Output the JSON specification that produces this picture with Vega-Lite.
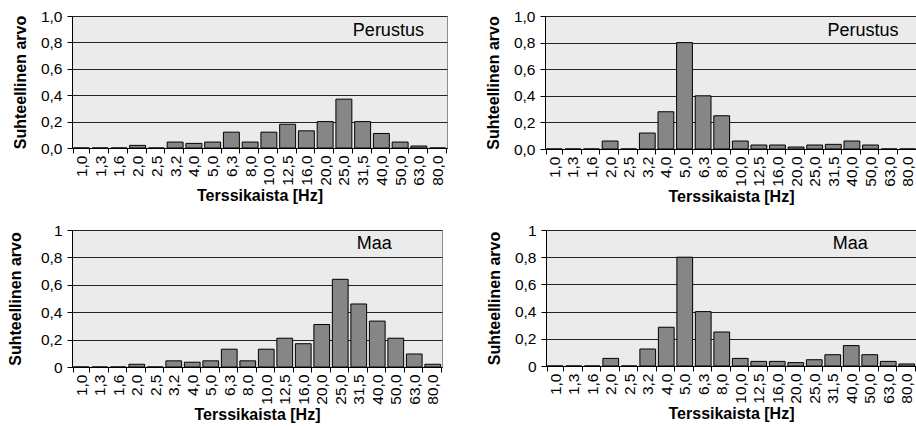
{
  "$schema": "https://vega.github.io/schema/vega-lite/v6.json",
  "padding": {"left": 6, "top": 8, "right": 0, "bottom": 0},
  "background": "white",
  "datasets": {
    "p1": [
      {"band": "1,0", "value": 0}, {"band": "1,3", "value": 0}, {"band": "1,6", "value": 0},
      {"band": "2,0", "value": 0.02}, {"band": "2,5", "value": 0}, {"band": "3,2", "value": 0.045},
      {"band": "4,0", "value": 0.035}, {"band": "5,0", "value": 0.045}, {"band": "6,3", "value": 0.12},
      {"band": "8,0", "value": 0.045}, {"band": "10,0", "value": 0.12}, {"band": "12,5", "value": 0.18},
      {"band": "16,0", "value": 0.13}, {"band": "20,0", "value": 0.2}, {"band": "25,0", "value": 0.37},
      {"band": "31,5", "value": 0.2}, {"band": "40,0", "value": 0.11}, {"band": "50,0", "value": 0.045},
      {"band": "63,0", "value": 0.015}, {"band": "80,0", "value": 0}
    ],
    "p2": [
      {"band": "1,0", "value": 0}, {"band": "1,3", "value": 0}, {"band": "1,6", "value": 0},
      {"band": "2,0", "value": 0.06}, {"band": "2,5", "value": 0}, {"band": "3,2", "value": 0.12},
      {"band": "4,0", "value": 0.28}, {"band": "5,0", "value": 0.8}, {"band": "6,3", "value": 0.4},
      {"band": "8,0", "value": 0.25}, {"band": "10,0", "value": 0.06}, {"band": "12,5", "value": 0.03},
      {"band": "16,0", "value": 0.03}, {"band": "20,0", "value": 0.015}, {"band": "25,0", "value": 0.03},
      {"band": "31,5", "value": 0.035}, {"band": "40,0", "value": 0.06}, {"band": "50,0", "value": 0.03},
      {"band": "63,0", "value": 0}, {"band": "80,0", "value": 0}
    ],
    "p3": [
      {"band": "1,0", "value": 0}, {"band": "1,3", "value": 0}, {"band": "1,6", "value": 0},
      {"band": "2,0", "value": 0.02}, {"band": "2,5", "value": 0}, {"band": "3,2", "value": 0.045},
      {"band": "4,0", "value": 0.035}, {"band": "5,0", "value": 0.045}, {"band": "6,3", "value": 0.13},
      {"band": "8,0", "value": 0.045}, {"band": "10,0", "value": 0.13}, {"band": "12,5", "value": 0.21},
      {"band": "16,0", "value": 0.17}, {"band": "20,0", "value": 0.31}, {"band": "25,0", "value": 0.64},
      {"band": "31,5", "value": 0.46}, {"band": "40,0", "value": 0.335}, {"band": "50,0", "value": 0.21},
      {"band": "63,0", "value": 0.095}, {"band": "80,0", "value": 0.02}
    ],
    "p4": [
      {"band": "1,0", "value": 0}, {"band": "1,3", "value": 0}, {"band": "1,6", "value": 0},
      {"band": "2,0", "value": 0.056}, {"band": "2,5", "value": 0}, {"band": "3,2", "value": 0.125},
      {"band": "4,0", "value": 0.285}, {"band": "5,0", "value": 0.8}, {"band": "6,3", "value": 0.4},
      {"band": "8,0", "value": 0.25}, {"band": "10,0", "value": 0.056}, {"band": "12,5", "value": 0.034},
      {"band": "16,0", "value": 0.034}, {"band": "20,0", "value": 0.025}, {"band": "25,0", "value": 0.046},
      {"band": "31,5", "value": 0.083}, {"band": "40,0", "value": 0.15}, {"band": "50,0", "value": 0.083},
      {"band": "63,0", "value": 0.034}, {"band": "80,0", "value": 0.015}
    ]
  },
  "config": {
    "font": "Liberation Sans",
    "view": {"fill": "#ebebeb", "stroke": "#8c8c8c", "strokeWidth": 1},
    "axis": {
      "labelFont": "Liberation Sans", "titleFont": "Liberation Sans",
      "labelFontSize": 15.5, "titleFontSize": 16, "titleFontWeight": "bold",
      "labelColor": "#000", "titleColor": "#000",
      "domainColor": "#000", "tickColor": "#000", "gridColor": "#222", "gridOpacity": 1, "gridWidth": 1
    },
    "axisX": {"labelAngle": -90, "labelAlign": "right", "labelBaseline": "middle", "labelPadding": 2, "tickBand": "extent", "tickSize": 5, "titlePadding": 2, "labelOverlap": false},
    "axisY": {"tickSize": 5, "labelPadding": 5, "titlePadding": 12, "labelOverlap": false}
  },
  "vconcat": [
    {
      "spacing": 36,
      "hconcat": [
        {
          "width": 375, "height": 132,
          "layer": [
            {
              "data": {"name": "p1"},
              "mark": {"type": "bar", "fill": "#868686", "stroke": "#000", "strokeWidth": 1},
              "encoding": {
                "x": {"field": "band", "type": "nominal", "sort": null,
                  "scale": {"domain": ["1,0","1,3","1,6","2,0","2,5","3,2","4,0","5,0","6,3","8,0","10,0","12,5","16,0","20,0","25,0","31,5","40,0","50,0","63,0","80,0"], "paddingInner": 0.15, "paddingOuter": 0.075},
                  "axis": {"title": "Terssikaista [Hz]"}},
                "y": {"field": "value", "type": "quantitative", "scale": {"domain": [0, 1], "nice": false},
                  "axis": {"title": "Suhteellinen arvo", "values": [0, 0.2, 0.4, 0.6, 0.8, 1], "labelExpr": "replace(format(datum.value, '.1f'), '.', ',')"}}
              }
            },
            {
              "data": {"values": [{"band": "40,0", "value": 0.886, "label": "Perustus"}]},
              "mark": {"type": "text", "fontSize": 18, "font": "Liberation Sans", "color": "#000", "align": "center", "baseline": "middle", "dx": 7},
              "encoding": {
                "x": {"field": "band", "type": "nominal", "sort": null,
                  "axis": {"title": "Terssikaista [Hz]"}},
                "y": {"field": "value", "type": "quantitative",
                  "axis": {"title": "Suhteellinen arvo", "values": [0, 0.2, 0.4, 0.6, 0.8, 1], "labelExpr": "replace(format(datum.value, '.1f'), '.', ',')"}},
                "text": {"field": "label"}
              }
            }
          ]
        },
        {
          "width": 372, "height": 133,
          "layer": [
            {
              "data": {"name": "p2"},
              "mark": {"type": "bar", "fill": "#868686", "stroke": "#000", "strokeWidth": 1},
              "encoding": {
                "x": {"field": "band", "type": "nominal", "sort": null,
                  "scale": {"domain": ["1,0","1,3","1,6","2,0","2,5","3,2","4,0","5,0","6,3","8,0","10,0","12,5","16,0","20,0","25,0","31,5","40,0","50,0","63,0","80,0"], "paddingInner": 0.15, "paddingOuter": 0.075},
                  "axis": {"title": "Terssikaista [Hz]"}},
                "y": {"field": "value", "type": "quantitative", "scale": {"domain": [0, 1], "nice": false},
                  "axis": {"title": "Suhteellinen arvo", "values": [0, 0.2, 0.4, 0.6, 0.8, 1], "labelExpr": "replace(format(datum.value, '.1f'), '.', ',')"}}
              }
            },
            {
              "data": {"values": [{"band": "40,0", "value": 0.887, "label": "Perustus"}]},
              "mark": {"type": "text", "fontSize": 18, "font": "Liberation Sans", "color": "#000", "align": "center", "baseline": "middle", "dx": 11},
              "encoding": {
                "x": {"field": "band", "type": "nominal", "sort": null,
                  "axis": {"title": "Terssikaista [Hz]"}},
                "y": {"field": "value", "type": "quantitative",
                  "axis": {"title": "Suhteellinen arvo", "values": [0, 0.2, 0.4, 0.6, 0.8, 1], "labelExpr": "replace(format(datum.value, '.1f'), '.', ',')"}},
                "text": {"field": "label"}
              }
            }
          ]
        }
      ]
    },
    {
      "spacing": 42,
      "hconcat": [
        {
          "width": 370, "height": 137,
          "layer": [
            {
              "data": {"name": "p3"},
              "mark": {"type": "bar", "fill": "#868686", "stroke": "#000", "strokeWidth": 1},
              "encoding": {
                "x": {"field": "band", "type": "nominal", "sort": null,
                  "scale": {"domain": ["1,0","1,3","1,6","2,0","2,5","3,2","4,0","5,0","6,3","8,0","10,0","12,5","16,0","20,0","25,0","31,5","40,0","50,0","63,0","80,0"], "paddingInner": 0.15, "paddingOuter": 0.075},
                  "axis": {"title": "Terssikaista [Hz]"}},
                "y": {"field": "value", "type": "quantitative", "scale": {"domain": [0, 1], "nice": false},
                  "axis": {"title": "Suhteellinen arvo", "minExtent": 37, "values": [0, 0.2, 0.4, 0.6, 0.8, 1], "labelExpr": "datum.value == 0 || datum.value == 1 ? format(datum.value, 'd') : replace(format(datum.value, '.1f'), '.', ',')"}}
              }
            },
            {
              "data": {"values": [{"band": "40,0", "value": 0.898, "label": "Maa"}]},
              "mark": {"type": "text", "fontSize": 18, "font": "Liberation Sans", "color": "#000", "align": "center", "baseline": "middle", "dx": -3},
              "encoding": {
                "x": {"field": "band", "type": "nominal", "sort": null,
                  "axis": {"title": "Terssikaista [Hz]"}},
                "y": {"field": "value", "type": "quantitative",
                  "axis": {"title": "Suhteellinen arvo", "minExtent": 37, "values": [0, 0.2, 0.4, 0.6, 0.8, 1], "labelExpr": "datum.value == 0 || datum.value == 1 ? format(datum.value, 'd') : replace(format(datum.value, '.1f'), '.', ',')"}},
                "text": {"field": "label"}
              }
            }
          ]
        },
        {
          "width": 370, "height": 136,
          "layer": [
            {
              "data": {"name": "p4"},
              "mark": {"type": "bar", "fill": "#868686", "stroke": "#000", "strokeWidth": 1},
              "encoding": {
                "x": {"field": "band", "type": "nominal", "sort": null,
                  "scale": {"domain": ["1,0","1,3","1,6","2,0","2,5","3,2","4,0","5,0","6,3","8,0","10,0","12,5","16,0","20,0","25,0","31,5","40,0","50,0","63,0","80,0"], "paddingInner": 0.15, "paddingOuter": 0.075},
                  "axis": {"title": "Terssikaista [Hz]"}},
                "y": {"field": "value", "type": "quantitative", "scale": {"domain": [0, 1], "nice": false},
                  "axis": {"title": "Suhteellinen arvo", "values": [0, 0.2, 0.4, 0.6, 0.8, 1], "labelExpr": "datum.value == 0 || datum.value == 1 ? format(datum.value, 'd') : replace(format(datum.value, '.1f'), '.', ',')"}}
              }
            },
            {
              "data": {"values": [{"band": "40,0", "value": 0.9, "label": "Maa"}]},
              "mark": {"type": "text", "fontSize": 18, "font": "Liberation Sans", "color": "#000", "align": "center", "baseline": "middle", "dx": -1},
              "encoding": {
                "x": {"field": "band", "type": "nominal", "sort": null,
                  "axis": {"title": "Terssikaista [Hz]"}},
                "y": {"field": "value", "type": "quantitative",
                  "axis": {"title": "Suhteellinen arvo", "values": [0, 0.2, 0.4, 0.6, 0.8, 1], "labelExpr": "datum.value == 0 || datum.value == 1 ? format(datum.value, 'd') : replace(format(datum.value, '.1f'), '.', ',')"}},
                "text": {"field": "label"}
              }
            }
          ]
        }
      ]
    }
  ],
  "spacing": 17
}
